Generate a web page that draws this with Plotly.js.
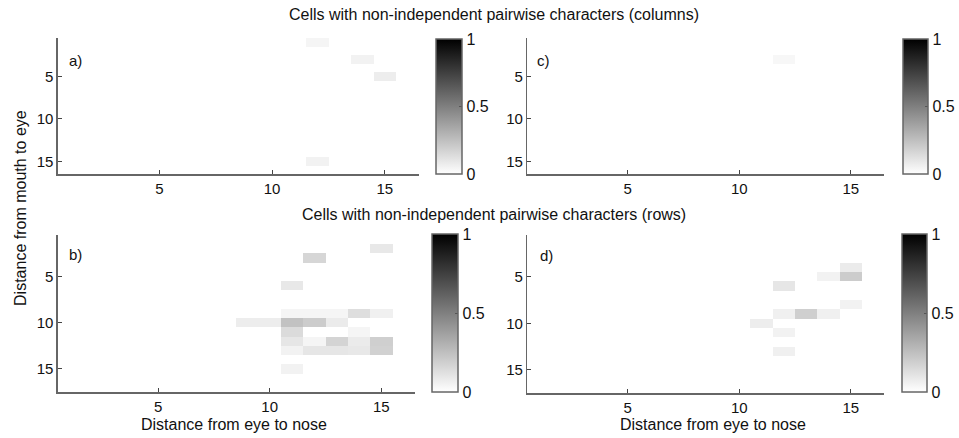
<!DOCTYPE html>
<html>
<head>
<meta charset="utf-8">
<script src="https://cdn.plot.ly/plotly-3.0.1.min.js"></script>
<style>html,body{margin:0;padding:0;background:#fff}#chart{width:959px;height:438px}</style>
</head>
<body>
<div id="chart"></div>
<script>
// Sparse cell lists: row (y), column (x), value
const aRows = [1, 3, 5, 15];
const aCols = [12, 14, 15, 12];
const aVals = [0.04, 0.05, 0.07, 0.05];

const cRows = [3];
const cCols = [12];
const cVals = [0.03];

const bRows = [2, 3, 6, 9, 9, 9, 9, 9, 10, 10, 10, 10, 10, 11, 11, 12, 12, 12, 12, 12, 13, 13, 13, 13, 13, 15];
const bCols = [15, 12, 11, 11, 12, 13, 14, 15, 9, 10, 11, 12, 13, 11, 14, 11, 12, 13, 14, 15, 11, 12, 13, 14, 15, 11];
const bVals = [0.09, 0.16, 0.09, 0.04, 0.04, 0.04, 0.13, 0.06, 0.07, 0.07, 0.24, 0.20, 0.08, 0.14, 0.04, 0.10, 0.04, 0.17, 0.08, 0.19, 0.05, 0.10, 0.10, 0.09, 0.18, 0.05];

const dRows = [4, 5, 5, 6, 8, 9, 9, 9, 10, 11, 13];
const dCols = [15, 14, 15, 12, 15, 12, 13, 14, 11, 12, 12];
const dVals = [0.08, 0.05, 0.20, 0.10, 0.05, 0.06, 0.19, 0.06, 0.07, 0.05, 0.06];

const nCols = 16;
const nRowsTop = 16;
const nRowsBottom = 17;
const xTicks = [5, 10, 15];
const yTicks = [5, 10, 15];
const cbTicks = [0, 0.5, 1];
const cbTickText = ['0', '0.5', '1'];

const titleTop = 'Cells with non-independent pairwise characters (columns)';
const titleBottom = 'Cells with non-independent pairwise characters (rows)';
const xLabel = 'Distance from eye to nose';
const yLabel = 'Distance from mouth to eye';
const panelLetters = ['a)', 'b)', 'c)', 'd)'];

function buildZ(rows, cols, vals, nR, nC) {
  const z = [];
  for (let r = 0; r < nR; r++) { z.push(new Array(nC).fill(0)); }
  for (let i = 0; i < rows.length; i++) { z[rows[i] - 1][cols[i] - 1] = vals[i]; }
  return z;
}
function seq(n) { const a = []; for (let i = 1; i <= n; i++) a.push(i); return a; }

const W = 959, H = 438;
const px = v => v / W;
const py = v => 1 - v / H;

const FONT = 'Liberation Sans, Arial, sans-serif';
const grayScale = [[0, 'rgb(255,255,255)'], [1, 'rgb(0,0,0)']];

function cb(xLeft, thick, top, bottom) {
  return {
    x: px(xLeft), xanchor: 'left', xpad: 0, ypad: 0,
    y: py(bottom), yanchor: 'bottom', len: (bottom - top) / H, lenmode: 'fraction',
    thickness: thick, thicknessmode: 'pixels',
    outlinecolor: '#666', outlinewidth: 1.5,
    tickvals: cbTicks, ticktext: cbTickText, ticks: 'inside', ticklen: 3, tickcolor: '#555',
    tickfont: {family: FONT, size: 16, color: '#111'}
  };
}

const panels = [
  {rows: aRows, cols: aCols, vals: aVals, nR: nRowsTop, xa: 'x', ya: 'y', cb: cb(437, 26, 39, 174)},
  {rows: bRows, cols: bCols, vals: bVals, nR: nRowsBottom, xa: 'x2', ya: 'y2', cb: cb(433, 26, 234, 392)},
  {rows: cRows, cols: cCols, vals: cVals, nR: nRowsTop, xa: 'x3', ya: 'y3', cb: cb(906, 25, 39, 174)},
  {rows: dRows, cols: dCols, vals: dVals, nR: nRowsBottom, xa: 'x4', ya: 'y4', cb: cb(905, 25, 234, 392)}
];

const traces = panels.map(p => ({
  type: 'heatmap',
  z: buildZ(p.rows, p.cols, p.vals, p.nR, nCols),
  x: seq(nCols), y: seq(p.nR),
  xaxis: p.xa, yaxis: p.ya,
  zmin: 0, zmax: 1, colorscale: grayScale,
  colorbar: p.cb, hoverinfo: 'skip'
}));

function xAxis(l, r, anchor) {
  return {
    domain: [px(l), px(r)], anchor: anchor, range: [0.5, 16.5],
    showgrid: false, zeroline: false, showline: true, linecolor: '#666', linewidth: 1.5,
    ticks: 'inside', ticklen: 4, tickcolor: '#444', tickvals: xTicks,
    tickfont: {family: FONT, size: 15, color: '#111'}, fixedrange: true
  };
}
function yAxis(top, bottom, nR, anchor) {
  return {
    domain: [py(bottom), py(top)], anchor: anchor, range: [nR + 0.5, 0.5],
    showgrid: false, zeroline: false, showline: true, linecolor: '#666', linewidth: 1.5,
    ticks: 'inside', ticklen: 4, tickcolor: '#444', tickvals: yTicks,
    tickfont: {family: FONT, size: 15, color: '#111'}, fixedrange: true
  };
}

const ann = (text, x, y, size, extra) => Object.assign({
  text: text, x: px(x), y: py(y), xref: 'paper', yref: 'paper', showarrow: false,
  font: {family: FONT, size: size, color: '#111'}, xanchor: 'center', yanchor: 'middle'
}, extra || {});

const layout = {
  width: W, height: H,
  margin: {l: 0, r: 0, t: 0, b: 0},
  paper_bgcolor: '#fff', plot_bgcolor: '#fff',
  showlegend: false,
  xaxis: xAxis(58, 420, 'y'),
  yaxis: yAxis(38, 174, nRowsTop, 'x'),
  xaxis2: xAxis(58, 416, 'y2'),
  yaxis2: yAxis(235, 392, nRowsBottom, 'x2'),
  xaxis3: xAxis(529, 887, 'y3'),
  yaxis3: yAxis(38, 174, nRowsTop, 'x3'),
  xaxis4: xAxis(529, 887, 'y4'),
  yaxis4: yAxis(235, 393, nRowsBottom, 'x4'),
  annotations: [
    ann(titleTop, 496, 14, 16),
    ann(titleBottom, 496, 214, 16),
    ann(xLabel, 235, 424, 16),
    ann(xLabel, 715, 424, 16),
    ann(yLabel, 20, 208, 16, {textangle: -90}),
    ann(panelLetters[0], 67, 60, 15, {xanchor: 'left'}),
    ann(panelLetters[1], 67, 254, 15, {xanchor: 'left'}),
    ann(panelLetters[2], 537, 60, 15, {xanchor: 'left'}),
    ann(panelLetters[3], 540, 255, 15, {xanchor: 'left'})
  ]
};

Plotly.newPlot('chart', traces, layout, {displayModeBar: false, staticPlot: true});
</script>
</body>
</html>
